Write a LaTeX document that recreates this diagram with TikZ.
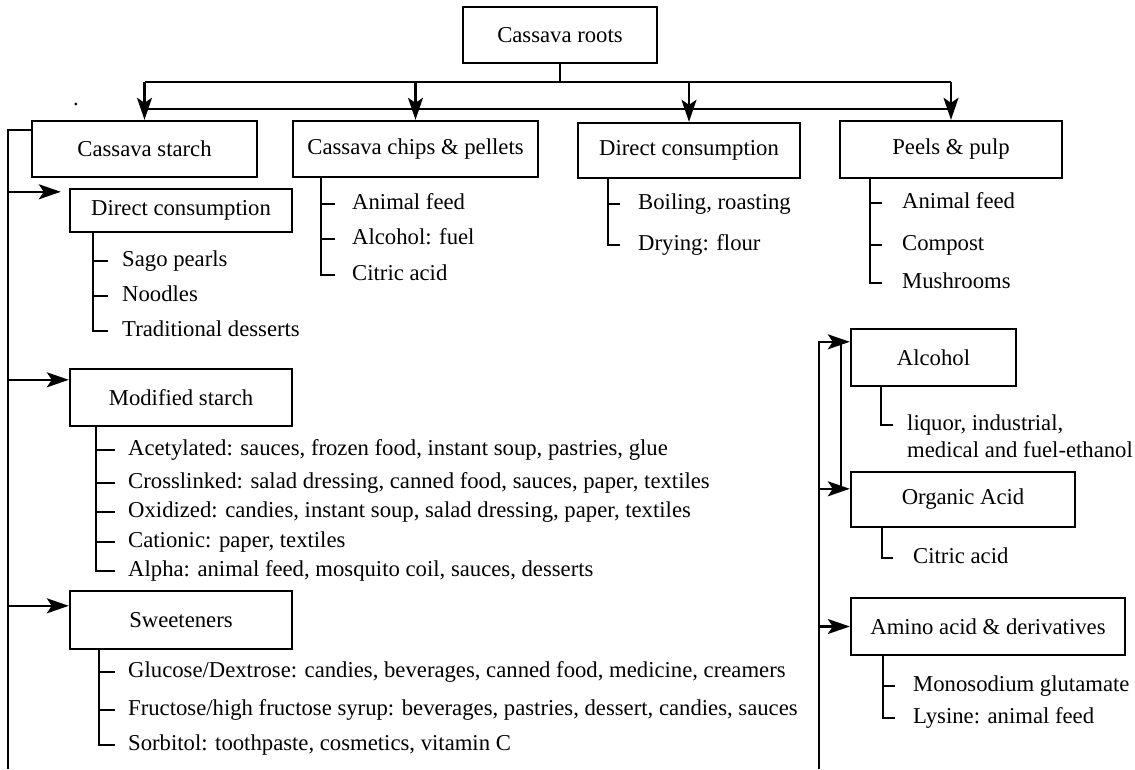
\documentclass[tikz,border=0pt]{standalone}
\usepackage{fontspec}
\setmainfont{Liberation Serif}
\usetikzlibrary{arrows.meta,positioning,calc}

\begin{document}
\begin{tikzpicture}[
				x=1pt, y=-1pt,
				font=\fontsize{22.7}{26}\selectfont,
				box/.style = {draw, line width=2.4pt, minimum height=56pt, inner sep=0pt, align=center},
				item/.style = {anchor=west, inner sep=0pt, text height=15pt, text depth=4pt},
				line/.style = {-{Stealth[length=22pt, width=15pt, inset=5pt]}, line width=2.2pt},
				tree/.style = {line width=2pt},
				thinline/.style = {line width=1.4pt}
				]
				\useasboundingbox (0,0) rectangle (1135,769);
				
				% main boxes
				\node[box, minimum width=194pt] (roots) at (560,35) {Cassava roots};
				\node[box, minimum width=225pt] (starch) at (144.5,149) {Cassava starch};
				\node[box, minimum width=245pt] (chips) at (415.5,149) {Cassava chips \& pellets};
				\node[box, minimum width=222pt, minimum height=55pt] (direct) at (689,150.5) {Direct consumption};
				\node[box, minimum width=222pt, minimum height=57pt] (peels) at (951,149.5) {Peels \& pulp};
				\node (dot) at (76,104) {.};
				
				% starch products
				\node[box, minimum width=222pt, minimum height=43pt] (dcs) at (181,210.5) {Direct consumption};
				\node[box, minimum width=222pt, minimum height=57pt] (mod) at (181,397.5) {Modified starch};
				\node[box, minimum width=222pt, minimum height=58pt] (sweet) at (181,620) {Sweeteners};
				\node[box, minimum width=165pt, minimum height=57pt] (alcohol) at (933.5,357.5) {Alcohol};
				\node[box, minimum width=224pt, minimum height=55pt] (organic) at (963,499.5) {Organic Acid};
				\node[box, minimum width=274pt, minimum height=57pt] (amino) at (988,626.5) {Amino acid \& derivatives};
				
				% items
				\node[item] (chfeed) at (352,204) {Animal feed};
				\node[item] (chfuel) at (352,239) {Alcohol: fuel};
				\node[item] (chcitric) at (352,275) {Citric acid};
				\node[item] (boil) at (638,204) {Boiling, roasting};
				\node[item] (dry) at (638,245) {Drying: flour};
				\node[item] (pfeed) at (902,203) {Animal feed};
				\node[item] (compost) at (902,245) {Compost};
				\node[item] (mush) at (902,283) {Mushrooms};
				\node[item] (sago) at (122,261) {Sago pearls};
				\node[item] (noodles) at (122,296) {Noodles};
				\node[item] (trad) at (122,331) {Traditional desserts};
				\node[item] (acet) at (128,450) {Acetylated: sauces, frozen food, instant soup, pastries, glue};
				\node[item] (cross) at (128,483) {Crosslinked: salad dressing, canned food, sauces, paper, textiles};
				\node[item] (oxid) at (128,512) {Oxidized: candies, instant soup, salad dressing, paper, textiles};
				\node[item] (cation) at (128,542) {Cationic: paper, textiles};
				\node[item] (alpha) at (128,571) {Alpha: animal feed, mosquito coil, sauces, desserts};
				\node[item] (gluc) at (128,672) {Glucose/Dextrose: candies, beverages, canned food, medicine, creamers};
				\node[item] (fruc) at (128,710) {Fructose/high fructose syrup: beverages, pastries, dessert, candies, sauces};
				\node[item] (sorb) at (128,745) {Sorbitol: toothpaste, cosmetics, vitamin C};
				\node[item] (liquor) at (907,425) {liquor, industrial,};
				\node[item] (liquor2) at (907,452) {medical and fuel-ethanol};
				\node[item] (ocitric) at (913,558) {Citric acid};
				\node[item] (msg) at (913,686) {Monosodium glutamate};
				\node[item] (lysine) at (913,718) {Lysine: animal feed};
				
				% top bus
				\coordinate (bus) at (560,82);
				\draw[tree] (roots) -- (bus);
				\draw[tree] (starch.north |- bus) -- (peels.north |- bus);
				\foreach \b in {starch,chips,direct,peels}
					\draw[line] (\b.north |- bus) -- (\b.north);
				\draw[thinline] ([yshift=11pt]starch.north) -- ([yshift=11pt]peels.north);
				
				% left feed line
				\coordinate (lbot) at (8,769);
				\draw[tree] ([yshift=-10pt]starch.north west) -| (lbot);
				\coordinate (dcsin) at ([yshift=-4pt]dcs.north west);
				\coordinate (modin) at ([yshift=-12pt]mod.north west);
				\coordinate (sweetin) at ([yshift=-16pt]sweet.north west);
				\draw[line] (lbot |- dcsin) -- ([xshift=-8pt]dcsin);
				\draw[line] (lbot |- modin) -- (modin);
				\draw[line] (lbot |- sweetin) -- (sweetin);
				
				% right feed line
				\coordinate (rbot) at (819,769);
				\coordinate (alcin) at ([yshift=-14pt]alcohol.north west);
				\coordinate (orgin) at ([yshift=-18pt]organic.north west);
				\draw[line] (rbot) |- (alcin);
				\draw[tree] ([xshift=-9pt]alcin) -- ([xshift=-9pt]orgin);
				\draw[line] (rbot |- orgin) -- (orgin);
				\draw[line] (rbot |- amino.west) -- (amino.west);
				
				% trees
				\draw[tree] ([xshift=29pt]chips.south west) |- ([xshift=-17pt]chcitric.west);
				\foreach \i in {chfeed,chfuel}
					\draw[tree] ([xshift=-30pt]\i.west) -- ([xshift=-17pt]\i.west);
				\draw[tree] ([xshift=31pt]direct.south west) |- ([xshift=-18pt]dry.west);
				\draw[tree] ([xshift=-29pt]boil.west) -- ([xshift=-18pt]boil.west);
				\draw[tree] ([xshift=31pt]peels.south west) |- ([xshift=-20pt]mush.west);
				\foreach \i in {pfeed,compost}
					\draw[tree] ([xshift=-31pt]\i.west) -- ([xshift=-20pt]\i.west);
				\draw[tree] ([xshift=24pt]dcs.south west) |- ([xshift=-14pt]trad.west);
				\foreach \i in {sago,noodles}
					\draw[tree] ([xshift=-28pt]\i.west) -- ([xshift=-14pt]\i.west);
				\draw[tree] ([xshift=27pt]mod.south west) |- ([xshift=-13pt]alpha.west);
				\foreach \i in {acet,cross,oxid,cation}
					\draw[tree] ([xshift=-31pt]\i.west) -- ([xshift=-13pt]\i.west);
				\draw[tree] ([xshift=30pt]sweet.south west) |- ([xshift=-13pt]sorb.west);
				\foreach \i in {gluc,fruc}
					\draw[tree] ([xshift=-28pt]\i.west) -- ([xshift=-13pt]\i.west);
				\draw[tree] ([xshift=31pt]alcohol.south west) |- ([xshift=-14pt]liquor.west);
				\draw[tree] ([xshift=32pt]organic.south west) |- ([xshift=-20pt]ocitric.west);
				\draw[tree] ([xshift=33pt]amino.south west) |- ([xshift=-18pt]lysine.west);
				\draw[tree] ([xshift=-29pt]msg.west) -- ([xshift=-18pt]msg.west);
			\end{tikzpicture}
\end{document}
